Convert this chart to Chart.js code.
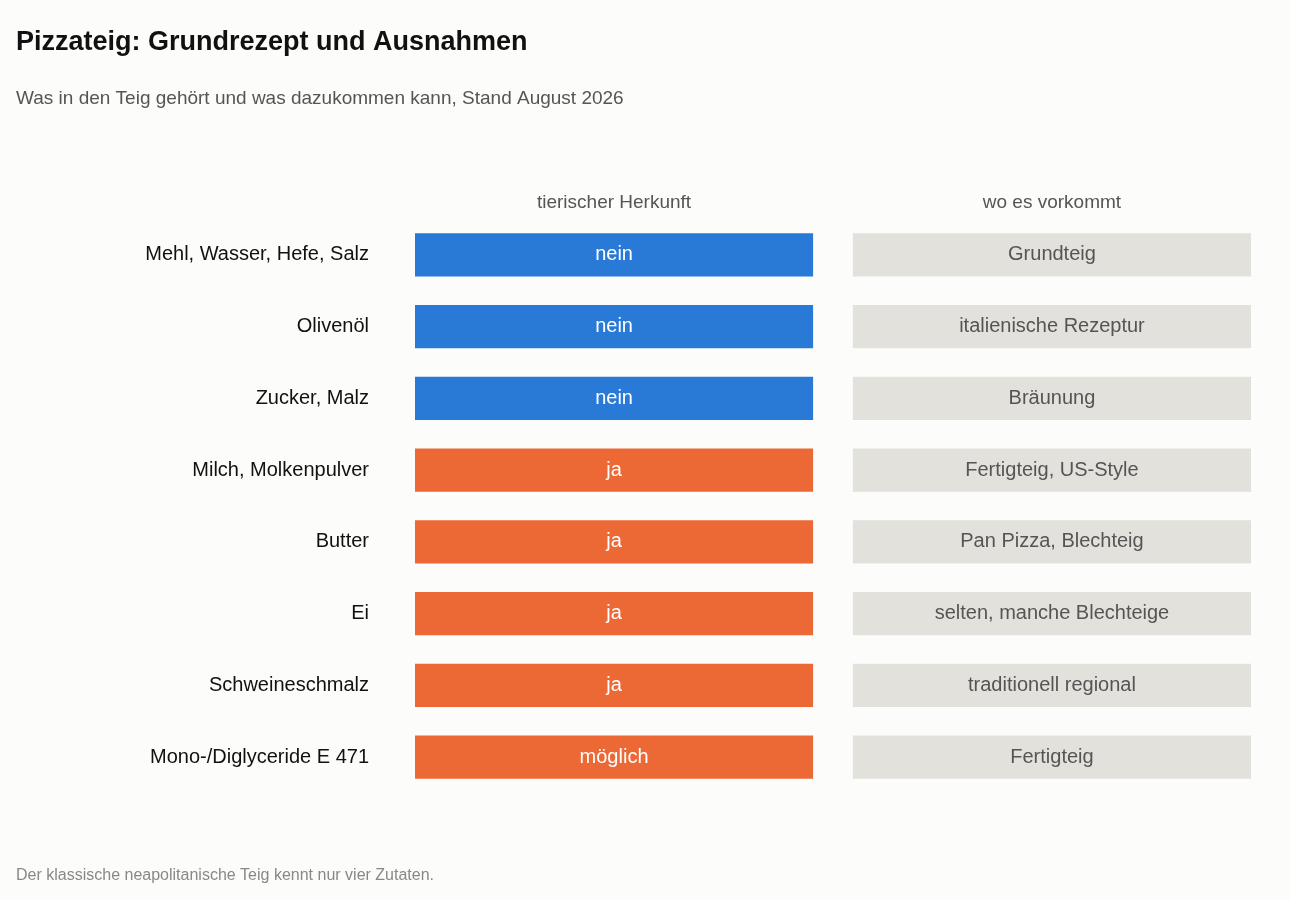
<!DOCTYPE html>
<html>
<head>
<meta charset="utf-8">
<script src="https://cdn.jsdelivr.net/npm/chart.js@4/dist/chart.umd.min.js"></script>
<style>
  html, body { margin: 0; padding: 0; background: #fcfcfa; }
  #wrap { width: 1290px; height: 900px; position: relative; }
</style>
</head>
<body>
<div id="wrap"><canvas id="chart" width="1290" height="900"></canvas></div>
<script>
// Data
const ingredients = ['Mehl, Wasser, Hefe, Salz', 'Olivenöl', 'Zucker, Malz', 'Milch, Molkenpulver',
    'Butter', 'Ei', 'Schweineschmalz', 'Mono-/Diglyceride E 471'];
const animalOrigin = ['nein', 'nein', 'nein', 'ja', 'ja', 'ja', 'ja', 'möglich'];
const whereUsed = ['Grundteig', 'italienische Rezeptur', 'Bräunung', 'Fertigteig, US-Style',
    'Pan Pizza, Blechteig', 'selten, manche Blechteige', 'traditionell regional', 'Fertigteig'];
const columnHeaders = ['tierischer Herkunft', 'wo es vorkommt'];

const FONT = '"Liberation Sans", Arial, sans-serif';
const BLUE = '#2979d6';
const ORANGE = '#ec6835';
const GREY = '#e2e1db';

const col1 = ingredients.map(() => [0, 1]);
const col2 = ingredients.map(() => [1.1, 2.1]);
const col1Colors = animalOrigin.map(v => v === 'nein' ? BLUE : ORANGE);

const tablePlugin = {
    id: 'tableText',
    afterDatasetsDraw(chart) {
        const ctx = chart.ctx;
        const area = chart.chartArea;
        ctx.save();

        // Title, subtitle, footer
        ctx.textBaseline = 'middle';
        ctx.textAlign = 'left';
        ctx.fillStyle = '#111';
        ctx.font = 'bold 27px ' + FONT;
        ctx.fillText('Pizzateig: Grundrezept und Ausnahmen', 16, 43);
        ctx.fillStyle = '#555';
        ctx.font = '19px ' + FONT;
        ctx.fillText('Was in den Teig gehört und was dazukommen kann, Stand August 2026', 16, 99);
        ctx.fillStyle = '#888';
        ctx.font = '16px ' + FONT;
        ctx.fillText('Der klassische neapolitanische Teig kennt nur vier Zutaten.', 16, 876);

        // Column headers
        const m1 = chart.getDatasetMeta(0).data;
        const m2 = chart.getDatasetMeta(1).data;
        ctx.textAlign = 'center';
        ctx.fillStyle = '#555';
        ctx.font = '19px ' + FONT;
        ctx.fillText(columnHeaders[0], (m1[0].base + m1[0].x) / 2, 203);
        ctx.fillText(columnHeaders[1], (m2[0].base + m2[0].x) / 2, 203);

        ingredients.forEach((name, i) => {
            const y = m1[i].y;
            ctx.textAlign = 'right';
            ctx.fillStyle = '#111';
            ctx.font = '20px ' + FONT;
            ctx.fillText(name, area.left - 46, y);

            ctx.textAlign = 'center';
            ctx.fillStyle = '#fff';
            ctx.font = '20px ' + FONT;
            ctx.fillText(animalOrigin[i], (m1[i].base + m1[i].x) / 2, y);

            ctx.fillStyle = '#555';
            ctx.fillText(whereUsed[i], (m2[i].base + m2[i].x) / 2, y);
        });
        ctx.restore();
    }
};

new Chart(document.getElementById('chart'), {
    type: 'bar',
    data: {
        labels: ingredients,
        datasets: [
            { data: col1, backgroundColor: col1Colors, grouped: false },
            { data: col2, backgroundColor: GREY, grouped: false }
        ]
    },
    options: {
        responsive: false,
        animation: false,
        indexAxis: 'y',
        layout: { padding: { left: 415, right: 39, top: 219, bottom: 107 } },
        datasets: { bar: { barPercentage: 0.6, categoryPercentage: 1 } },
        scales: {
            x: { min: 0, max: 2.1, display: false },
            y: { display: false }
        },
        plugins: {
            legend: { display: false },
            tooltip: { enabled: false }
        }
    },
    plugins: [tablePlugin]
});
</script>
</body>
</html>
